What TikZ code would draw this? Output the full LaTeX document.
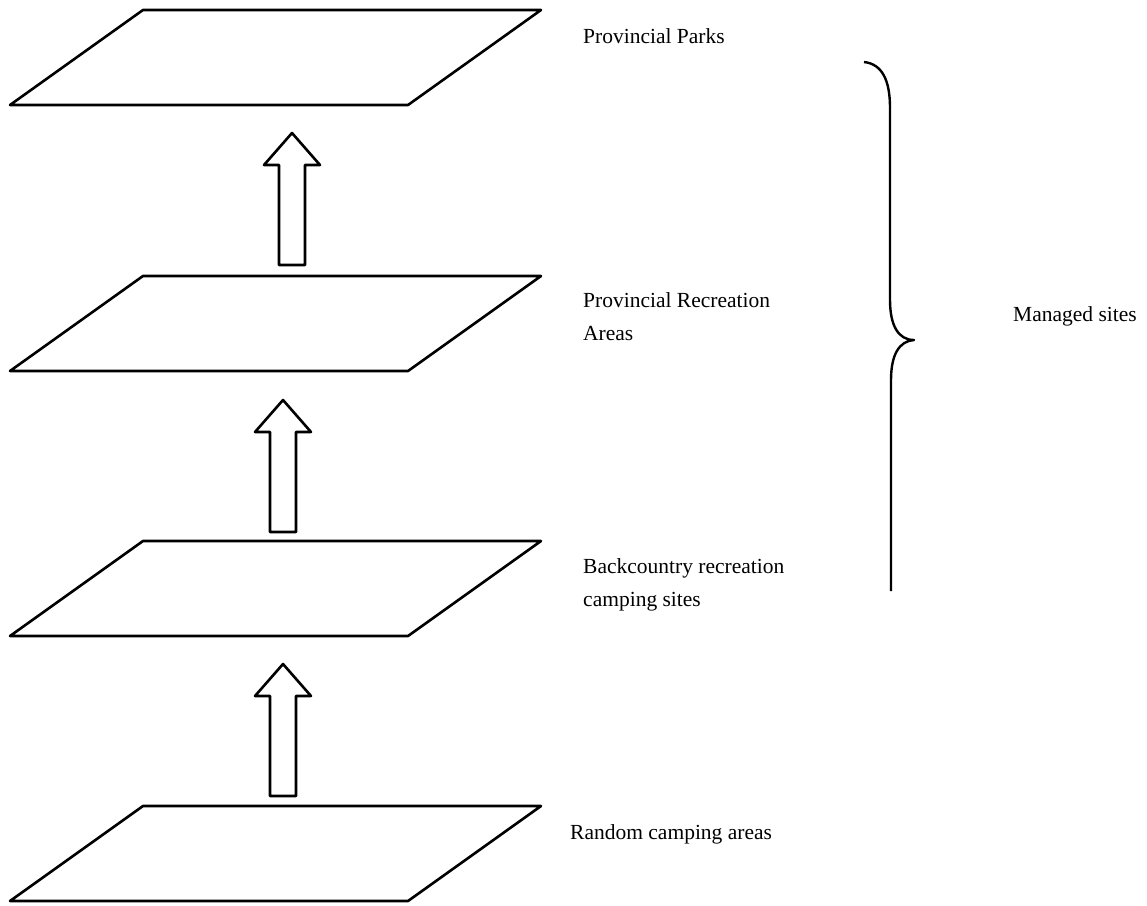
\documentclass[tikz,border=0pt]{standalone}
\usepackage{fontspec}
\setmainfont{Liberation Serif}
\begin{document}
\begin{tikzpicture}[x=1pt,y=-1pt, line join=round,
  edge/.style={draw=black, line width=2.6pt},
  lbl/.style={anchor=west, inner sep=0pt, align=left, font=\fontsize{21.5}{33}\selectfont},
  plane/.pic={\path[edge] (133,0) -- (531,0) -- (398,95) -- (0,95) -- cycle;},
  blockarrow/.pic={\path[edge, fill=white] (0,0) -- (28,32) -- (13,32) -- (13,132) -- (-13,132) -- (-13,32) -- (-28,32) -- cycle;}]
\useasboundingbox (0,0) rectangle (1147,905);
\fill[white] (0,0) rectangle (1147,905);

% planes
\pic at (10,10) {plane};
\pic at (10,276) {plane};
\pic at (10,541) {plane};
\pic at (10,806) {plane};

% block arrows
\pic at (292,133) {blockarrow};
\pic at (283,400) {blockarrow};
\pic at (283,664) {blockarrow};

% labels
\node[lbl] (pp) at (583,36) {Provincial Parks};
\node[lbl] (pra) at (583,317) {Provincial Recreation\\Areas};
\node[lbl] (bc) at (583,585) {Backcountry recreation\\camping sites};
\node[lbl] (rc) at (570,834) {Random camping areas};
\node[lbl] (ms) at (1013,316) {Managed sites};

% brace
\coordinate (btop) at (864,62);
\coordinate (btip) at (914,340);
\coordinate (bbot) at (891,591);
\draw[line width=2.4pt] (btop) .. controls (882,64) and (890,80) .. (890,108)
  -- (890,300) .. controls (890,325) and (898,340) .. (btip)
  .. controls (899,341) and (891,355) .. (891,380) -- (bbot);
\end{tikzpicture}
\end{document}
